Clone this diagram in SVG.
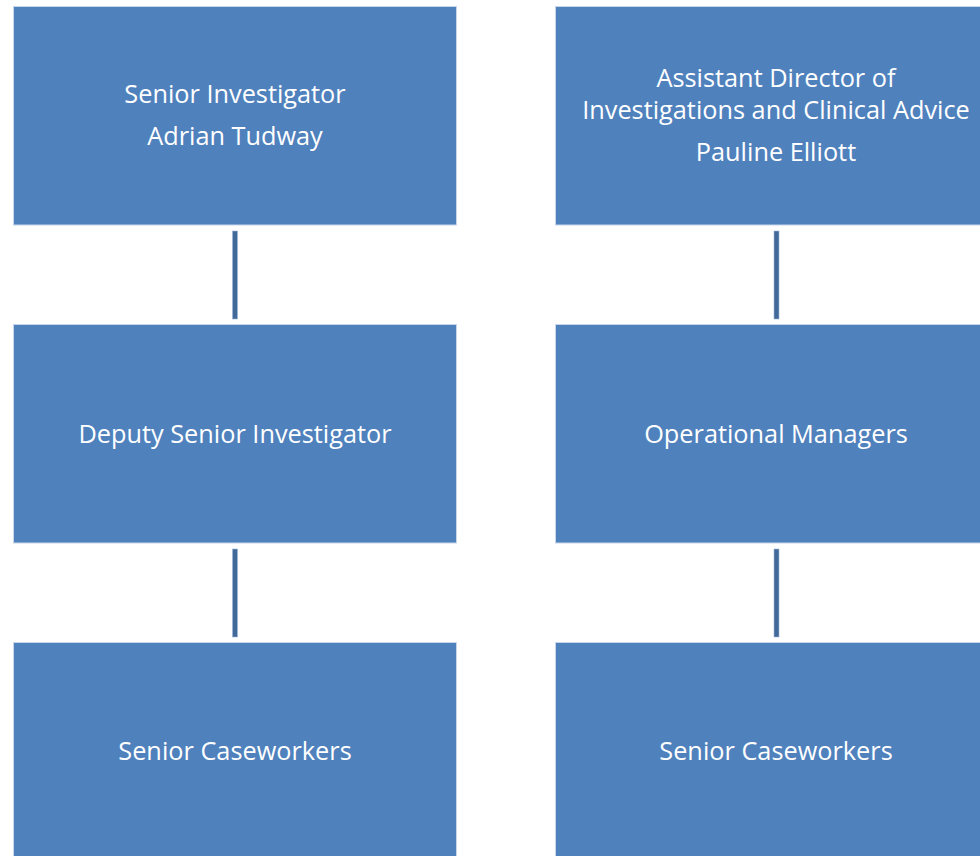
<svg xmlns="http://www.w3.org/2000/svg" width="980" height="856" viewBox="0 0 980 856">
<style>
.box{fill:#4f81bd;stroke:#c7d6ea;stroke-width:1}
.lbl{font-family:"Open Sans","Noto Sans",sans-serif;font-size:25.3px;fill:#ffffff;text-anchor:middle;dominant-baseline:central}
.conn{fill:#41699a;stroke:#9fb6d4;stroke-width:0.6}
</style>
<rect width="980" height="856" fill="#ffffff"/>
<g id="connectors">
<rect class="conn" x="232.5" y="231" width="5" height="88"/>
<rect class="conn" x="232.5" y="549" width="5" height="88"/>
<rect class="conn" x="774" y="231" width="5" height="88"/>
<rect class="conn" x="774" y="549" width="5" height="88"/>
</g>
<g id="senior-investigator">
<rect class="box" x="13.5" y="6.5" width="443" height="218.5"/>
<text class="lbl" x="235" y="93">Senior Investigator</text>
<text class="lbl" x="235" y="135">Adrian Tudway</text>
</g>
<g id="assistant-director">
<rect class="box" x="555.5" y="6.5" width="441" height="218.5"/>
<text class="lbl" x="776" y="77">Assistant Director of</text>
<text class="lbl" x="776" y="109">Investigations and Clinical Advice</text>
<text class="lbl" x="776" y="151">Pauline Elliott</text>
</g>
<g id="deputy-senior-investigator">
<rect class="box" x="13.5" y="324.5" width="443" height="218.5"/>
<text class="lbl" x="235" y="433">Deputy Senior Investigator</text>
</g>
<g id="operational-managers">
<rect class="box" x="555.5" y="324.5" width="441" height="218.5"/>
<text class="lbl" x="776" y="433">Operational Managers</text>
</g>
<g id="senior-caseworkers-left">
<rect class="box" x="13.5" y="642.5" width="443" height="218.5"/>
<text class="lbl" x="235" y="750">Senior Caseworkers</text>
</g>
<g id="senior-caseworkers-right">
<rect class="box" x="555.5" y="642.5" width="441" height="218.5"/>
<text class="lbl" x="776" y="750">Senior Caseworkers</text>
</g>
</svg>
